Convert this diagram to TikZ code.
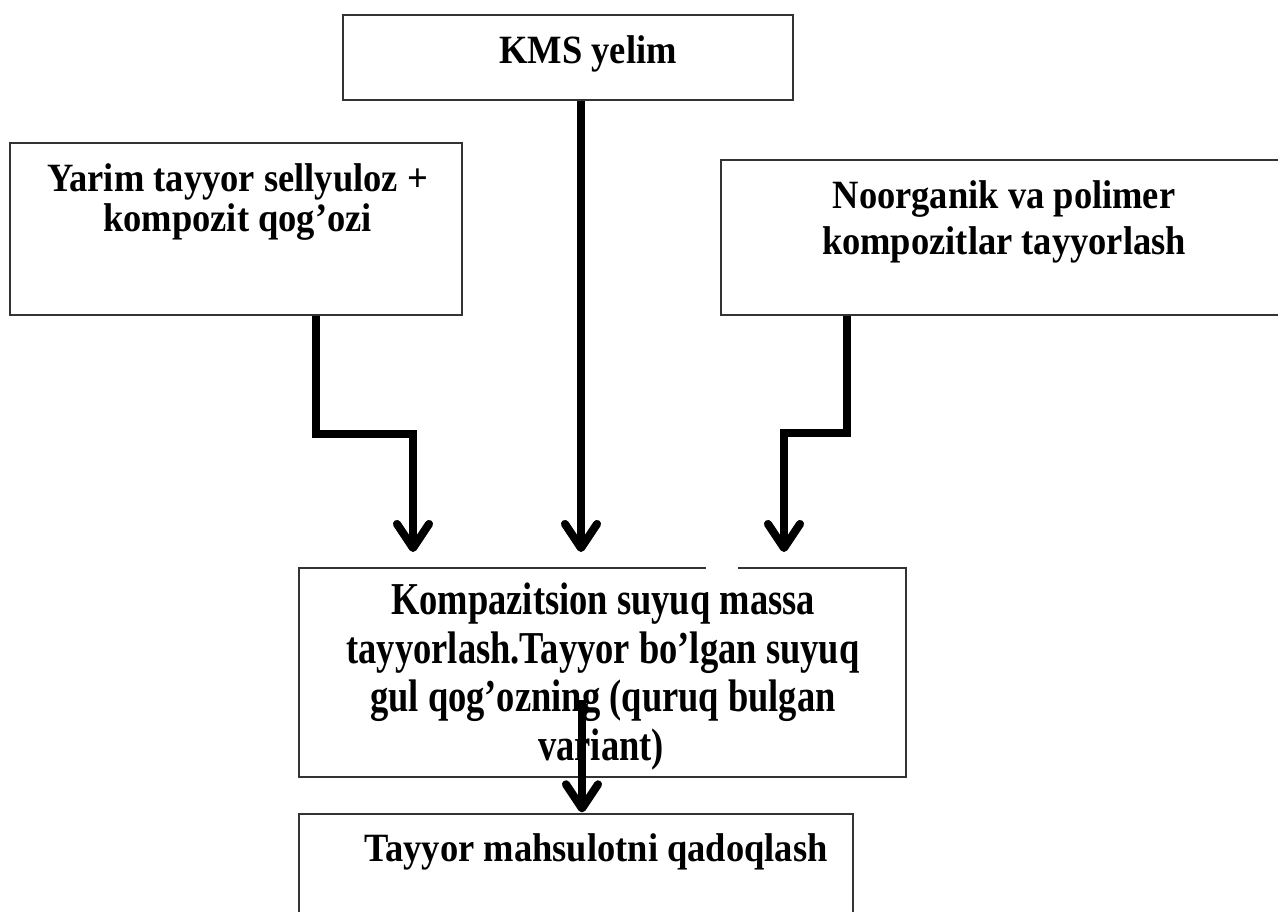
\documentclass[tikz,border=0pt]{standalone}
\usepackage{fontspec}
\setmainfont{Liberation Serif}
\usepackage{graphicx}
\usetikzlibrary{arrows.meta,calc}
\newcommand{\tallA}[1]{\scalebox{1}[1.1]{#1}}
\newcommand{\tallB}[1]{\scalebox{1}[1.25]{#1}}
\begin{document}
\begin{tikzpicture}[x=1pt,y=-1pt,
  box/.style={draw=black!80, line width=1.3pt, rectangle, inner sep=0pt, fill=white},
  lbl/.style={anchor=base, inner sep=0pt, font=\bfseries\fontsize{36.5}{40}\selectfont},
  arr/.style={line width=8pt, draw=black, -{Straight Barb[length=24pt,width=32pt,round]}},
  shad/.style={arr, draw=black!40, xshift=-2pt, yshift=-4pt},
]
\useasboundingbox (0,0) rectangle (1278,911);
\clip (0,0) rectangle (1278,911);
% boxes
\node[box, minimum width=450pt, minimum height=85pt] (kms) at (568,57.5) {};
\node[box, minimum width=452pt, minimum height=172pt] (yarim) at (236,229) {};
\node[box, minimum width=569pt, minimum height=155pt] (noor) at (1005.5,237.5) {};
\node[box, minimum width=607pt, minimum height=209pt] (komp) at (602.5,672.5) {};
\node[box, minimum width=554pt, minimum height=116pt] (tayyor) at (576,872) {};
\draw[white, line width=3pt] (706,568) -- (738,568);
% texts
\node[lbl] (t1) at (588,63) {\tallA{KMS yelim}};
\node[lbl] (t2a) at (237.5,191) {\tallA{Yarim tayyor sellyuloz +}};
\node[lbl] (t2b) at (237.5,231) {\tallA{kompozit qog’ozi}};
\node[lbl] (t3a) at (1004,208) {\tallA{Noorganik va polimer}};
\node[lbl] (t3b) at (1004,254) {\tallA{kompozitlar tayyorlash}};
\node[lbl] (t4a) at (603,614) {\tallB{Kompazitsion suyuq massa}};
\node[lbl] (t4b) at (603,663) {\tallB{tayyorlash.Tayyor bo’lgan suyuq}};
\node[lbl] (t4c) at (603,711) {\tallB{gul qog’ozning (quruq bulgan}};
\node[lbl] (t4d) at (601,760) {\tallB{variant)}};
\node[lbl] (t5) at (596,861) {\tallA{Tayyor mahsulotni qadoqlash}};
% connector coordinates
\coordinate (L1) at (316,434);
\coordinate (L2) at (413,552);
\coordinate (M) at (581,552);
\coordinate (R1) at (847,433);
\coordinate (R2) at (784,552);
\coordinate (B0) at (582,700);
% shadows
\draw[shad] (yarim.south -| L1) -- (L1) -- (L1 -| L2) -- (L2);
\draw[shad] (kms.south -| M) -- (M);
\draw[shad] (noor.south -| R1) -- (R1) -- (R1 -| R2) -- (R2);
\draw[shad] (B0) -- ([yshift=1pt]tayyor.north -| B0);
% arrows
\draw[arr] (yarim.south -| L1) -- (L1) -- (L1 -| L2) -- (L2);
\draw[arr] (kms.south -| M) -- (M);
\draw[arr] (noor.south -| R1) -- (R1) -- (R1 -| R2) -- (R2);
\draw[arr] (B0) -- ([yshift=1pt]tayyor.north -| B0);
\end{tikzpicture}
\end{document}
